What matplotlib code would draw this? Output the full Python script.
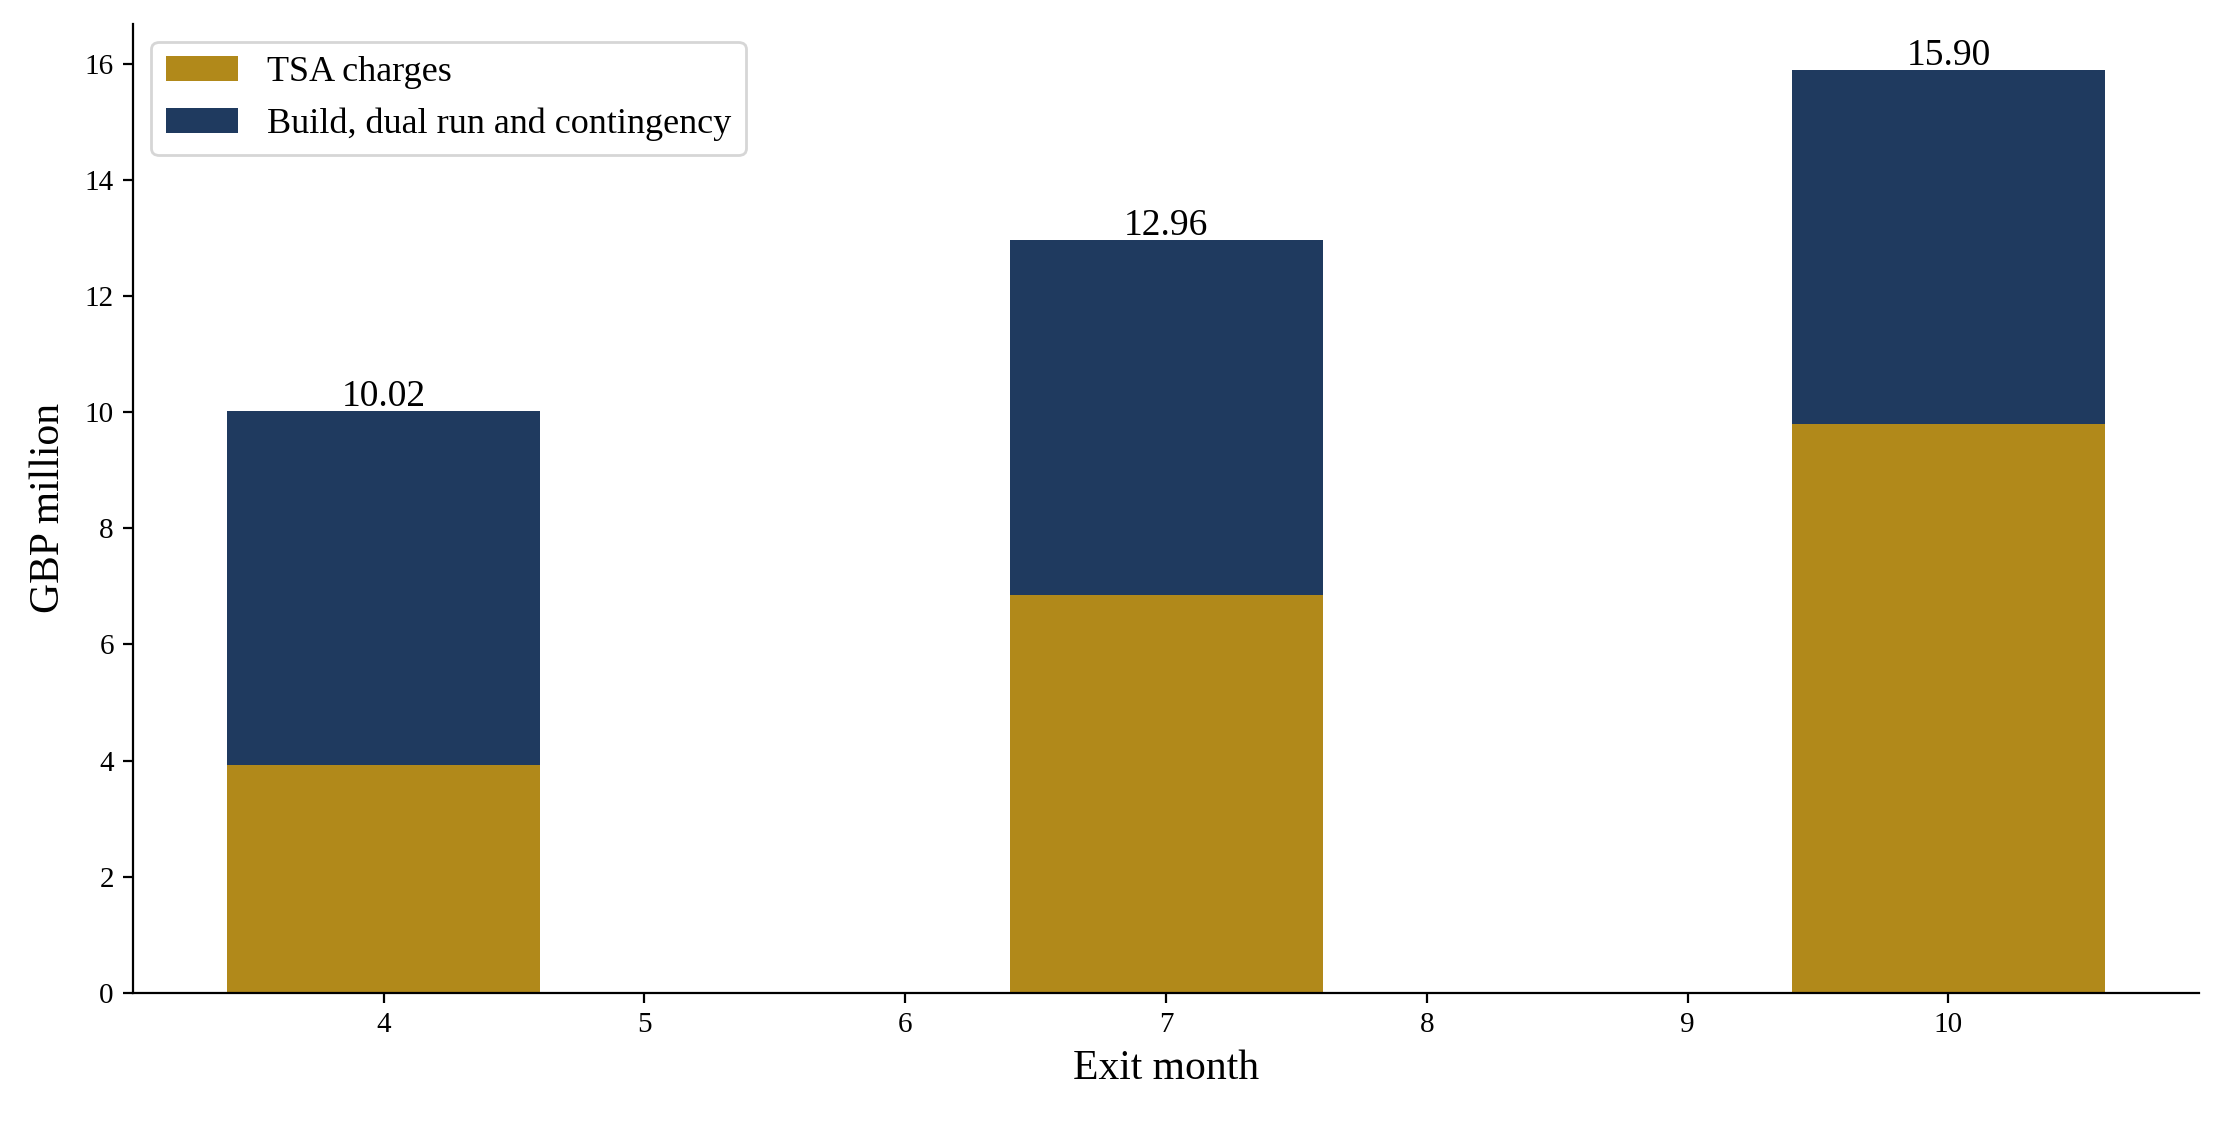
import matplotlib
matplotlib.use("Agg")
import matplotlib.pyplot as plt
import numpy as np

plt.rcParams['font.family'] = ['Liberation Serif', 'DejaVu Serif']

# data
exit_months = [4, 7, 10]
tsa_charges = [3.92, 6.86, 9.80]
build_costs = [6.10, 6.10, 6.10]
month_ticks = [4, 5, 6, 7, 8, 9, 10]

gold = '#B1891A'
navy = '#1F3A5F'

fig, ax = plt.subplots(figsize=(11.105, 5.615), dpi=200)
fig.subplots_adjust(left=0.060, right=0.990, bottom=0.116, top=0.979)

ax.bar(exit_months, tsa_charges, width=1.2, color=gold, label='TSA charges')
ax.bar(exit_months, build_costs, width=1.2, bottom=tsa_charges, color=navy,
       label='Build, dual run and contingency')

totals = np.array(tsa_charges) + np.array(build_costs)
for m, t in zip(exit_months, totals):
    ax.text(m, t - 0.05, '{:.2f}'.format(t), ha='center', va='bottom', fontsize=13.5)

ax.set_xticks(month_ticks)
ax.tick_params(labelsize=10.5)
ax.set_xlabel('Exit month', fontsize=15)
ax.set_ylabel('GBP million', fontsize=15, labelpad=6)
ax.spines['top'].set_visible(False)
ax.spines['right'].set_visible(False)
ax.legend(loc='upper left', fontsize=13)

fig.savefig('out.png', dpi=200)
